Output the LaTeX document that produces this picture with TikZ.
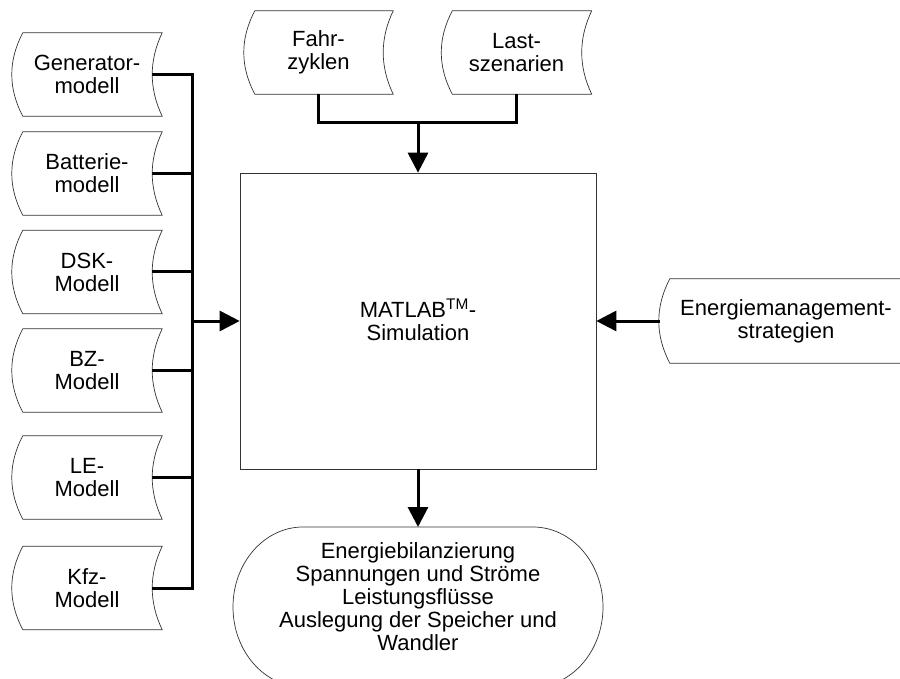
\documentclass[tikz,border=0pt]{standalone}
\usepackage{fontspec}
\setmainfont{Liberation Sans}
\usetikzlibrary{arrows.meta,calc}
\tikzset{
  txt/.style={inner sep=0pt, align=center, font=\fontsize{22}{23}\selectfont},
  sdbox/.style={txt, minimum width=150pt, minimum height=83pt},
  outline/.style={draw=black!80, line width=0.7pt, fill=white},
  conn/.style={line width=3pt, draw=black},
  arr/.style={conn, -{Triangle[length=20pt,width=20pt]}},
}
% stored-data outline around a node: convex left side, concave right side
\newcommand\sdoutline[1]{%
  \path[outline] ([xshift=11pt]#1.north west) -- (#1.north east)
    .. controls ($(#1.north east)!1/3!(#1.south east)+(-13.3pt,0)$) and ($(#1.north east)!2/3!(#1.south east)+(-13.3pt,0)$) .. (#1.south east)
    -- ([xshift=11pt]#1.south west)
    .. controls ($(#1.south west)!1/3!(#1.north west)+(-3.7pt,0)$) and ($(#1.south west)!2/3!(#1.north west)+(-3.7pt,0)$) .. ([xshift=11pt]#1.north west) -- cycle;}
\begin{document}
\begin{tikzpicture}[x=1pt,y=-1pt]
\clip (0,0) rectangle (900,679);
\fill[white] (0,0) rectangle (900,679);

% left model boxes
\node[sdbox] (gen) at (87,74.5) {};
\node[sdbox] (bat) at (87,173.5) {};
\node[sdbox] (dsk) at (87,272) {};
\node[sdbox] (bz)  at (87,370.5) {};
\node[sdbox] (le)  at (87,477.5) {};
\node[sdbox] (kfz) at (87,588) {};
% top boxes
\node[sdbox, minimum width=149pt] (fahr) at (318.5,52.5) {};
\node[sdbox] (last) at (516.5,52.5) {};
% right box
\node[sdbox, minimum width=254pt, minimum height=84pt] (ems) at (786,321) {};

\sdoutline{gen}\sdoutline{bat}\sdoutline{dsk}\sdoutline{bz}\sdoutline{le}\sdoutline{kfz}
\sdoutline{fahr}\sdoutline{last}\sdoutline{ems}

\node[txt] at (gen) {Generator-\\modell};
\node[txt] at (bat) {Batterie-\\modell};
\node[txt] at (dsk) {DSK-\\Modell};
\node[txt] at (bz) {BZ-\\Modell};
\node[txt] at (le) {LE-\\Modell};
\node[txt] at (kfz) {Kfz-\\Modell};
\node[txt] at (fahr) {Fahr-\\zyklen};
\node[txt] at (last) {Last-\\szenarien};
\node[txt] at (ems) {Energiemanagement-\\strategien};

% main box
\node[draw=black!80, line width=0.7pt, minimum width=356pt, minimum height=296pt, inner sep=0pt] (sim) at (418,321) {};
\node[txt] at (418,320) {MATLAB\textsuperscript{TM}-\\Simulation};

% result terminator
\path[outline] (303,527) -- (533,527)
  .. controls (571.7,527) and (603,562.8) .. (603,607)
  .. controls (603,651.2) and (571.7,687) .. (533,687)
  -- (303,687)
  .. controls (264.3,687) and (233,651.2) .. (233,607)
  .. controls (233,562.8) and (264.3,527) .. (303,527) -- cycle;
\coordinate (restop) at (418,527);
\node[txt] (res) at (418,597) {Energiebilanzierung\\Spannungen und Ströme\\Leistungsflüsse\\Auslegung der Speicher und\\Wandler};

% connectors left
\coordinate (busT) at (192,74.5);
\coordinate (busB) at (192,588);
\coordinate (busM) at (192,321);
\draw[conn] ([xshift=-10pt]gen.east) -- (busT |- gen.east);
\draw[conn] ([xshift=-10pt]bat.east) -- (busT |- bat.east);
\draw[conn] ([xshift=-10pt]dsk.east) -- (busT |- dsk.east);
\draw[conn] ([xshift=-10pt]bz.east) -- (busT |- bz.east);
\draw[conn] ([xshift=-10pt]le.east) -- (busT |- le.east);
\draw[conn] ([xshift=-10pt]kfz.east) -- (busT |- kfz.east);
\draw[conn, line cap=rect] (busT) -- (busB);
\draw[arr] (busM) -- (sim.west |- busM);

% connectors top
\coordinate (topM) at (418,123);
\draw[conn] (fahr.south) |- (topM) -| (last.south);
\draw[arr] (topM) -- (sim.north);

% right
\draw[arr] ([xshift=1pt]ems.west) -- (sim.east |- ems.west);

% bottom
\draw[arr] (sim.south) -- (restop);
\end{tikzpicture}
\end{document}
